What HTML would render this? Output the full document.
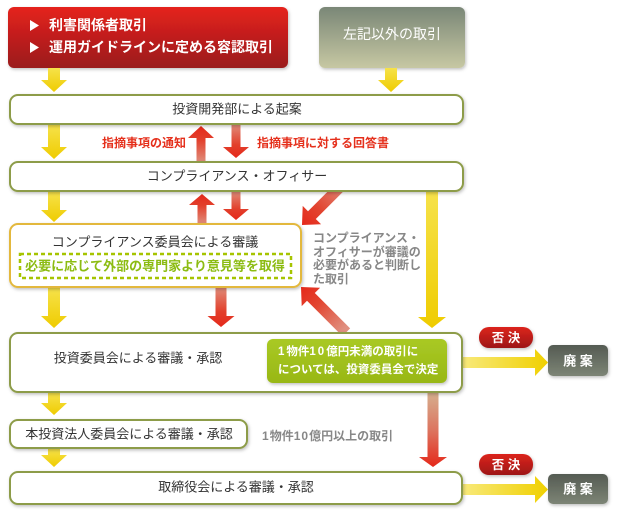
<!DOCTYPE html>
<html><head><meta charset="utf-8">
<style>
html,body{margin:0;padding:0;background:#fff;}
svg{display:block;}
text{font-family:"Liberation Sans","Noto Sans CJK JP",sans-serif;}
</style></head>
<body>
<svg width="620" height="516" viewBox="0 0 620 516" xmlns="http://www.w3.org/2000/svg">
<defs>
  <linearGradient id="gRed" x1="0" y1="0" x2="0" y2="1">
    <stop offset="0" stop-color="#e5221a"/><stop offset="1" stop-color="#9a1a1f"/>
  </linearGradient>
  <linearGradient id="gGray" x1="0" y1="0" x2="0" y2="1">
    <stop offset="0" stop-color="#7a8777"/><stop offset="1" stop-color="#c7c8a3"/>
  </linearGradient>
  <linearGradient id="gYel" x1="0" y1="0" x2="0" y2="1">
    <stop offset="0" stop-color="#f6e24a"/><stop offset="1" stop-color="#efcc00"/>
  </linearGradient>
  <linearGradient id="gYelH" x1="0" y1="0" x2="1" y2="0">
    <stop offset="0" stop-color="#f8e97a"/><stop offset="1" stop-color="#f0d000"/>
  </linearGradient>
  <linearGradient id="gRedDown" x1="0" y1="0" x2="0" y2="1">
    <stop offset="0" stop-color="#e08a78"/><stop offset="0.6" stop-color="#e2402c"/><stop offset="1" stop-color="#e5281a"/>
  </linearGradient>
  <linearGradient id="gRedUp" x1="0" y1="1" x2="0" y2="0">
    <stop offset="0" stop-color="#e08a78"/><stop offset="0.6" stop-color="#e2402c"/><stop offset="1" stop-color="#e5281a"/>
  </linearGradient>
  <linearGradient id="gRedLong" x1="0" y1="0" x2="0" y2="1">
    <stop offset="0" stop-color="#d6ae8e"/><stop offset="0.5" stop-color="#dc7560"/><stop offset="1" stop-color="#e5281a"/>
  </linearGradient>
  <linearGradient id="gDiag" gradientUnits="userSpaceOnUse" x1="-60" y1="0" x2="0" y2="0">
    <stop offset="0" stop-color="#e09080"/><stop offset="0.6" stop-color="#e24530"/><stop offset="1" stop-color="#e5281a"/>
  </linearGradient>
  <linearGradient id="gBadge" x1="0" y1="0" x2="0" y2="1">
    <stop offset="0" stop-color="#dc241a"/><stop offset="1" stop-color="#9e1719"/>
  </linearGradient>
  <linearGradient id="gHaian" x1="0" y1="0" x2="0" y2="1">
    <stop offset="0" stop-color="#555b53"/><stop offset="1" stop-color="#7d8576"/>
  </linearGradient>
  <linearGradient id="gGreen" x1="0" y1="0" x2="0" y2="1">
    <stop offset="0" stop-color="#a9c924"/><stop offset="1" stop-color="#98b716"/>
  </linearGradient>
  <filter id="sh" x="-10%" y="-20%" width="120%" height="150%">
    <feDropShadow dx="1" dy="1.5" stdDeviation="1.5" flood-color="#000" flood-opacity="0.25"/>
  </filter>
</defs>

<!-- top boxes -->
<rect x="8" y="7" width="280" height="61" rx="6" fill="url(#gRed)" filter="url(#sh)"/>
<polygon points="30,20 39,25.5 30,31" fill="#fff"/>
<polygon points="30,42 39,47.5 30,53" fill="#fff"/>
<text x="49" y="25" font-size="14" font-weight="bold" fill="#fff" dominant-baseline="central">利害関係者取引</text>
<text x="49" y="47" font-size="14" font-weight="bold" fill="#fff" dominant-baseline="central">運用ガイドラインに定める容認取引</text>

<rect x="319" y="7" width="146" height="61" rx="6" fill="url(#gGray)" filter="url(#sh)"/>
<text x="392" y="34" font-size="14" fill="#fff" text-anchor="middle" dominant-baseline="central">左記以外の取引</text>

<!-- yellow arrows -->
<g fill="url(#gYel)">
<polygon points="48,68 60,68 60,80 67,80 54,92 41,80 48,80"/>
<polygon points="48,125 60,125 60,147 67,147 54,159 41,147 48,147"/>
<polygon points="48,192 60,192 60,210 67,210 54,222 41,210 48,210"/>
<polygon points="48,288 60,288 60,316 67,316 54,328 41,316 48,316"/>
<polygon points="48,393 60,393 60,403 67,403 54,415 41,403 48,403"/>
<polygon points="48,449 60,449 60,455 67,455 54,467 41,455 48,455"/>
<polygon points="385,68 397,68 397,80 404,80 391,92 378,80 385,80"/>
<polygon points="426,192 438,192 438,317 446,317 432,328 418,317 426,317"/>
</g>
<g fill="url(#gYelH)">
<polygon points="463,357 535,357 535,349 548,362.5 535,376 535,368 463,368"/>
<polygon points="463,484 535,484 535,476 548,489.5 535,503 535,495 463,495"/>
</g>

<!-- red vertical arrows -->
<polygon points="196.5,161 205.5,161 205.5,138 214,138 201,126 188,138 196.5,138" fill="url(#gRedUp)"/>
<polygon points="231.5,125 240.5,125 240.5,147 249,147 236,158 223,147 231.5,147" fill="url(#gRedDown)"/>
<polygon points="197.5,223 206.5,223 206.5,205 215,205 202,194 189,205 197.5,205" fill="url(#gRedUp)"/>
<polygon points="231.5,192 240.5,192 240.5,209 249,209 236,220 223,209 231.5,209" fill="url(#gRedDown)"/>
<polygon points="215.5,288 226.5,288 226.5,316 234.5,316 221,327 207.5,316 215.5,316" fill="url(#gRedDown)"/>
<polygon points="427.5,393 438.5,393 438.5,457 447,457 433,467 419,457 427.5,457" fill="url(#gRedLong)"/>

<!-- diagonal arrows -->
<g transform="translate(302,225) rotate(135)">
<polygon points="-55,-5.5 -14,-5.5 -14,-13 0,0 -14,13 -14,5.5 -55,5.5" fill="url(#gDiag)"/>
</g>
<g transform="translate(301,287) rotate(-135)">
<polygon points="-64,-5.5 -14,-5.5 -14,-13 0,0 -14,13 -14,5.5 -64,5.5" fill="url(#gDiag)"/>
</g>

<!-- red labels -->
<text x="102" y="143" font-size="12" font-weight="bold" fill="#e5301c" dominant-baseline="central">指摘事項の通知</text>
<text x="257" y="143" font-size="12" font-weight="bold" fill="#e5301c" dominant-baseline="central">指摘事項に対する回答書</text>

<!-- boxes -->
<g fill="#fff" stroke="#8d9c48" stroke-width="2" filter="url(#sh)">
<rect x="10" y="95" width="453" height="29" rx="8"/>
<rect x="10" y="162" width="453" height="29" rx="8"/>
<rect x="10" y="333" width="452" height="59" rx="8"/>
<rect x="10" y="420" width="237" height="28" rx="8"/>
<rect x="10" y="472" width="452" height="32" rx="8"/>
</g>
<rect x="10" y="224" width="291" height="63" rx="8" fill="#fff" stroke="#e3b83c" stroke-width="2" filter="url(#sh)"/>

<g font-size="13" fill="#333" text-anchor="middle" dominant-baseline="central">
<text x="237" y="109">投資開発部による起案</text>
<text x="237" y="176">コンプライアンス・オフィサー</text>
<text x="155" y="242">コンプライアンス委員会による審議</text>
<text x="138" y="358">投資委員会による審議・承認</text>
<text x="129" y="434">本投資法人委員会による審議・承認</text>
<text x="236" y="487">取締役会による審議・承認</text>
</g>

<rect x="20" y="254" width="271" height="24" fill="#fff" stroke="#a6c400" stroke-width="2.5" stroke-dasharray="4,3"/>
<text x="155" y="266" font-size="13" font-weight="bold" fill="#8cbc12" text-anchor="middle" dominant-baseline="central">必要に応じて外部の専門家より意見等を取得</text>

<!-- green box -->
<rect x="267" y="339" width="180" height="44" rx="6" fill="url(#gGreen)" filter="url(#sh)"/>
<text x="278" y="352" font-size="11.5" font-weight="bold" fill="#fff" dominant-baseline="central"><tspan letter-spacing="2">1</tspan>物件<tspan letter-spacing="2">10</tspan>億円未満の取引に</text>
<text x="278" y="370" font-size="11.5" font-weight="bold" fill="#fff" dominant-baseline="central">については、投資委員会で決定</text>

<!-- gray side texts -->
<g font-size="12" font-weight="bold" fill="#878787" dominant-baseline="central">
<text x="313" y="238">コンプライアンス・</text>
<text x="313" y="252">オフィサーが審議の</text>
<text x="313" y="265">必要があると判断し</text>
<text x="313" y="279">た取引</text>
<text x="262" y="436"><tspan letter-spacing="1">1</tspan>物件<tspan letter-spacing="1">10</tspan>億円以上の取引</text>
</g>

<!-- badges -->
<rect x="479" y="327" width="54" height="21" rx="10" fill="url(#gBadge)" filter="url(#sh)"/>
<text x="506" y="338" font-size="12.5" font-weight="bold" fill="#fff" text-anchor="middle" dominant-baseline="central">否 決</text>
<rect x="548" y="345" width="60" height="31" rx="5" fill="url(#gHaian)" filter="url(#sh)"/>
<text x="578" y="361" font-size="13" font-weight="bold" fill="#fff" text-anchor="middle" dominant-baseline="central">廃 案</text>

<rect x="479" y="454" width="54" height="21" rx="10" fill="url(#gBadge)" filter="url(#sh)"/>
<text x="506" y="465" font-size="12.5" font-weight="bold" fill="#fff" text-anchor="middle" dominant-baseline="central">否 決</text>
<rect x="548" y="474" width="60" height="30" rx="5" fill="url(#gHaian)" filter="url(#sh)"/>
<text x="578" y="489" font-size="13" font-weight="bold" fill="#fff" text-anchor="middle" dominant-baseline="central">廃 案</text>
</svg>
</body></html>
